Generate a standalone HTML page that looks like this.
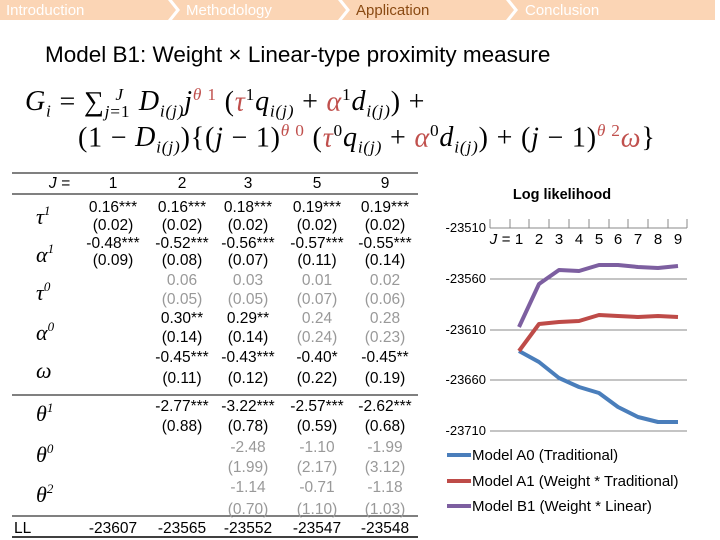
<!DOCTYPE html>
<html><head><meta charset="utf-8"><style>
body{margin:0;width:720px;height:540px;background:#fff;overflow:hidden;position:relative;font-family:"Liberation Sans",sans-serif}
.f{position:absolute;font-family:"Liberation Serif",serif;font-size:28px;letter-spacing:0.8px;white-space:nowrap;color:#000;line-height:30px}
.f i{font-style:italic}
.r{color:#c0504d}
sub,sup{font-size:62%}
</style></head><body>
<svg width="720" height="540" style="position:absolute;left:0;top:0" font-family="Liberation Sans, sans-serif">
<g fill="#fbd5b5">
<polygon points="0,0 168,0 176,10 168,20 0,20"/>
<polygon points="172,0 338,0 346,10 338,20 172,20 180,10"/>
<polygon points="342,0 506,0 514,10 506,20 342,20 350,10"/>
<polygon points="510,0 715,0 715,20 510,20 518,10"/>
</g>
<g font-size="15" fill="#fff"><text x="6" y="15">Introduction</text><text x="186" y="15">Methodology</text><text x="356" y="15" fill="#8a4a12">Application</text><text x="525" y="15">Conclusion</text></g>
<text x="45" y="62" font-size="22.5">Model B1:  Weight  ×  Linear-type proximity measure</text>

<!-- table -->
<g stroke="#000"><line x1="12" y1="173" x2="418" y2="173"/><line x1="12" y1="194" x2="418" y2="194"/><line x1="12" y1="395" x2="418" y2="395"/><line x1="12" y1="516" x2="418" y2="516"/><line x1="12" y1="537" x2="418" y2="537" stroke-width="1.5"/></g>
<g font-size="15.5" text-anchor="middle">
<text x="70" y="188" font-style="italic" text-anchor="end">J =</text>
<text x="113" y="188">1</text><text x="182" y="188">2</text><text x="248" y="188">3</text><text x="317" y="188">5</text><text x="385" y="188">9</text>
<text x="113" y="212">0.16***</text><text x="182" y="212">0.16***</text><text x="248" y="212">0.18***</text><text x="317" y="212">0.19***</text><text x="385" y="212">0.19***</text>
<text x="113" y="230">(0.02)</text><text x="182" y="230">(0.02)</text><text x="248" y="230">(0.02)</text><text x="317" y="230">(0.02)</text><text x="385" y="230">(0.02)</text>
<text x="113" y="248">-0.48***</text><text x="182" y="248">-0.52***</text><text x="248" y="248">-0.56***</text><text x="317" y="248">-0.57***</text><text x="385" y="248">-0.55***</text>
<text x="113" y="265">(0.09)</text><text x="182" y="265">(0.08)</text><text x="248" y="265">(0.07)</text><text x="317" y="265">(0.11)</text><text x="385" y="265">(0.14)</text>
<g fill="#999"><text x="182" y="285">0.06</text><text x="248" y="285">0.03</text><text x="317" y="285">0.01</text><text x="385" y="285">0.02</text>
<text x="182" y="304">(0.05)</text><text x="248" y="304">(0.05)</text><text x="317" y="304">(0.07)</text><text x="385" y="304">(0.06)</text>
<text x="317" y="323">0.24</text><text x="385" y="323">0.28</text><text x="317" y="342">(0.24)</text><text x="385" y="342">(0.23)</text></g>
<text x="182" y="323">0.30**</text><text x="248" y="323">0.29**</text>
<text x="182" y="342">(0.14)</text><text x="248" y="342">(0.14)</text>
<text x="182" y="362">-0.45***</text><text x="248" y="362">-0.43***</text><text x="317" y="362">-0.40*</text><text x="385" y="362">-0.45**</text>
<text x="182" y="383">(0.11)</text><text x="248" y="383">(0.12)</text><text x="317" y="383">(0.22)</text><text x="385" y="383">(0.19)</text>
<text x="182" y="411">-2.77***</text><text x="248" y="411">-3.22***</text><text x="317" y="411">-2.57***</text><text x="385" y="411">-2.62***</text>
<text x="182" y="431">(0.88)</text><text x="248" y="431">(0.78)</text><text x="317" y="431">(0.59)</text><text x="385" y="431">(0.68)</text>
<g fill="#999"><text x="248" y="452">-2.48</text><text x="317" y="452">-1.10</text><text x="385" y="452">-1.99</text>
<text x="248" y="472">(1.99)</text><text x="317" y="472">(2.17)</text><text x="385" y="472">(3.12)</text>
<text x="248" y="492">-1.14</text><text x="317" y="492">-0.71</text><text x="385" y="492">-1.18</text>
<text x="248" y="514">(0.70)</text><text x="317" y="514">(1.10)</text><text x="385" y="514">(1.03)</text></g>
<text x="14" y="533" text-anchor="start">LL</text>
<text x="113" y="533">-23607</text><text x="182" y="533">-23565</text><text x="248" y="533">-23552</text><text x="317" y="533">-23547</text><text x="385" y="533">-23548</text>
</g>
<g font-family="Liberation Serif, serif" font-style="italic" font-size="22">
<text x="36" y="224">τ<tspan font-size="13" dy="-9">1</tspan></text>
<text x="36" y="262">α<tspan font-size="13" dy="-9">1</tspan></text>
<text x="36" y="300">τ<tspan font-size="13" dy="-9">0</tspan></text>
<text x="36" y="340">α<tspan font-size="13" dy="-9">0</tspan></text>
<text x="36" y="378">ω</text>
<text x="36" y="421">θ<tspan font-size="13" dy="-9">1</tspan></text>
<text x="36" y="462">θ<tspan font-size="13" dy="-9">0</tspan></text>
<text x="36" y="502">θ<tspan font-size="13" dy="-9">2</tspan></text>
</g>

<!-- chart -->
<text x="562" y="199" font-size="14.5" font-weight="bold" text-anchor="middle">Log likelihood</text>
<g stroke="#888" stroke-width="1">
<line x1="490" y1="279" x2="687" y2="279"/><line x1="490" y1="330" x2="687" y2="330"/><line x1="490" y1="380" x2="687" y2="380"/><line x1="490" y1="431" x2="687" y2="431"/>
<line x1="490" y1="228" x2="687" y2="228"/>
<line x1="490" y1="219" x2="490" y2="228"/><line x1="510" y1="219" x2="510" y2="228"/><line x1="529" y1="219" x2="529" y2="228"/><line x1="549" y1="219" x2="549" y2="228"/><line x1="569" y1="219" x2="569" y2="228"/><line x1="589" y1="219" x2="589" y2="228"/><line x1="609" y1="219" x2="609" y2="228"/><line x1="628" y1="219" x2="628" y2="228"/><line x1="648" y1="219" x2="648" y2="228"/><line x1="668" y1="219" x2="668" y2="228"/><line x1="687" y1="219" x2="687" y2="228"/>
</g>
<g font-size="13" text-anchor="end"><text x="486" y="232">-23510</text><text x="486" y="283">-23560</text><text x="486" y="334">-23610</text><text x="486" y="384">-23660</text><text x="486" y="435">-23710</text></g>
<g font-size="15" text-anchor="middle"><text x="500" y="244" font-style="italic">J =</text>
<text x="519" y="244">1</text><text x="539" y="244">2</text><text x="559" y="244">3</text><text x="579" y="244">4</text><text x="599" y="244">5</text><text x="618" y="244">6</text><text x="638" y="244">7</text><text x="658" y="244">8</text><text x="678" y="244">9</text></g>
<g fill="none" stroke-width="4" stroke-linejoin="round">
<polyline stroke="#4a7ebb" points="519,351 539,362 559,378 579,387 599,393 618,407 638,417 658,422 678,422"/>
<polyline stroke="#be4b48" points="519,351 539,324 559,322 579,321 599,315 618,316 638,317 658,316 678,317"/>
<polyline stroke="#7d5fa0" points="519,327 539,284 559,270 579,271 599,265 618,265 638,267 658,268 678,266"/>
<line x1="447" y1="455" x2="471" y2="455" stroke="#4a7ebb"/>
<line x1="447" y1="481" x2="471" y2="481" stroke="#be4b48"/>
<line x1="447" y1="506" x2="471" y2="506" stroke="#7d5fa0"/>
</g>
<g font-size="15"><text x="472" y="460">Model A0  (Traditional)</text><text x="472" y="486">Model A1  (Weight * Traditional)</text><text x="472" y="511">Model B1  (Weight * Linear)</text></g>
</svg>
<div class="f" style="left:25px;top:80px"><i>G<sub>i</sub></i> = ∑<sub><i>j</i>=1</sub><sup style="position:relative;left:-15px"><i>J</i></sup><i>D<sub>i(j)</sub>j</i><sup class="r"><i>θ</i> 1</sup> (<i class="r">τ</i><sup>1</sup><i>q<sub>i(j)</sub></i> + <i class="r">α</i><sup>1</sup><i>d<sub>i(j)</sub></i>) +</div>
<div class="f" style="left:78px;top:116px">(1 − <i>D<sub>i(j)</sub></i>){(<i>j</i> − 1)<sup class="r"><i>θ</i> 0</sup> (<i class="r">τ</i><sup>0</sup><i>q<sub>i(j)</sub></i> + <i class="r">α</i><sup>0</sup><i>d<sub>i(j)</sub></i>) + (<i>j</i> − 1)<sup class="r"><i>θ</i> 2</sup><i class="r">ω</i>}</div>
</body></html>
